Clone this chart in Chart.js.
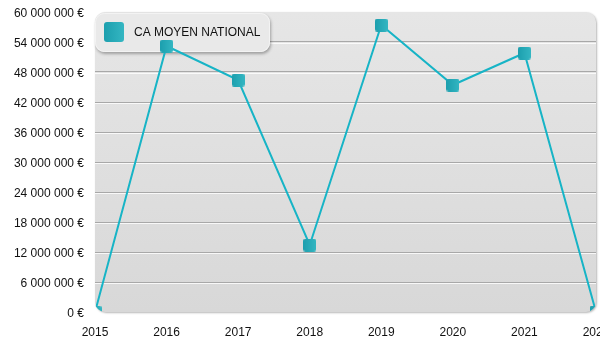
<!DOCTYPE html>
<html>
<head>
<meta charset="utf-8">
<script src="https://cdn.jsdelivr.net/npm/chart.js@4.4.1/dist/chart.umd.min.js"></script>
<style>
  html, body { margin: 0; padding: 0; background: #ffffff; overflow: hidden; }
  #wrap { width: 600px; height: 350px; overflow: hidden; }
  #chart { display: block; }
</style>
</head>
<body>
<div id="wrap"><canvas id="chart" width="605" height="350"></canvas></div>
<script>
// Années et chiffre d'affaires moyen national
const years = ['2015', '2016', '2017', '2018', '2019', '2020', '2021', '2022'];
const caMoyen = [0, 53200000, 46400000, 13400000, 57400000, 45400000, 51800000, 0];
const seriesLabel = 'CA MOYEN NATIONAL';
const yMin = 0;
const yMax = 60000000;
const yStep = 6000000;

const FONT = 'Liberation Sans, Arial, Helvetica, sans-serif';
const TEAL = '#17b4c6';

// "60 000 000 €"
function formatEuro(v) {
  return String(Math.round(v)).replace(/\B(?=(\d{3})+(?!\d))/g, ' ') + ' €';
}

function roundRectPath(ctx, x, y, w, h, r) {
  ctx.beginPath();
  ctx.moveTo(x + r, y);
  ctx.lineTo(x + w - r, y);
  ctx.arcTo(x + w, y, x + w, y + r, r);
  ctx.lineTo(x + w, y + h - r);
  ctx.arcTo(x + w, y + h, x + w - r, y + h, r);
  ctx.lineTo(x + r, y + h);
  ctx.arcTo(x, y + h, x, y + h - r, r);
  ctx.lineTo(x, y + r);
  ctx.arcTo(x, y, x + r, y, r);
  ctx.closePath();
}

// Rounded teal square used for the markers and the legend swatch
function makeSwatch(size, radius) {
  const c = document.createElement('canvas');
  c.width = size; c.height = size;
  const g = c.getContext('2d');
  const grad = g.createLinearGradient(0, 0, size, 0);
  grad.addColorStop(0, '#1c9fae');
  grad.addColorStop(1, '#34b6c2');
  roundRectPath(g, 0, 0, size, size, radius);
  g.fillStyle = grad;
  g.fill();
  return c;
}
const markerImg = makeSwatch(13, 2.5);

// Grey rounded panel behind the plot + soft gridline highlights
const panelPlugin = {
  id: 'panel',
  beforeDraw(chart) {
    const { ctx, chartArea: a } = chart;
    ctx.save();
    ctx.shadowColor = 'rgba(0,0,0,0.28)';
    ctx.shadowBlur = 2;
    ctx.shadowOffsetX = 1;
    ctx.shadowOffsetY = 1;
    const grad = ctx.createLinearGradient(0, a.top, 0, a.bottom);
    grad.addColorStop(0, '#e6e6e6');
    grad.addColorStop(1, '#d8d8d8');
    roundRectPath(ctx, a.left, a.top, a.right - a.left, a.bottom - a.top, 10);
    ctx.fillStyle = grad;
    ctx.fill();
    ctx.restore();
  },
  beforeDatasetsDraw(chart) {
    const { ctx, chartArea: a, scales } = chart;
    // white highlight just under each gridline
    ctx.save();
    ctx.strokeStyle = 'rgba(255,255,255,0.8)';
    ctx.lineWidth = 1;
    scales.y.ticks.forEach(t => {
      if (t.value <= yMin || t.value >= yMax) return;
      const y = Math.round(scales.y.getPixelForValue(t.value)) + 1.5;
      ctx.beginPath();
      ctx.moveTo(a.left, y);
      ctx.lineTo(a.right, y);
      ctx.stroke();
    });
    ctx.restore();

    // legend box
    const lx = 95, ly = 13, lw = 175, lh = 39;
    ctx.save();
    ctx.shadowColor = 'rgba(0,0,0,0.3)';
    ctx.shadowBlur = 3;
    ctx.shadowOffsetX = 1;
    ctx.shadowOffsetY = 2;
    roundRectPath(ctx, lx, ly, lw, lh, 9);
    ctx.fillStyle = '#e9e9e9';
    ctx.fill();
    ctx.restore();
    ctx.save();
    roundRectPath(ctx, lx + 0.5, ly + 0.5, lw - 1, lh - 1, 9);
    ctx.strokeStyle = '#f3f3f3';
    ctx.lineWidth = 1;
    ctx.stroke();
    ctx.drawImage(makeSwatch(20, 3), 104, 22);
    ctx.fillStyle = '#111111';
    ctx.font = '12px ' + FONT;
    ctx.textBaseline = 'middle';
    ctx.textAlign = 'left';
    ctx.fillText(chart.data.datasets[0].label, 134, 33);
    ctx.restore();

    // keep the series inside the rounded panel
    ctx.save();
    roundRectPath(ctx, a.left, a.top, a.right - a.left, a.bottom - a.top, 10);
    ctx.clip();
  },
  afterDatasetsDraw(chart) {
    chart.ctx.restore();
  }
};

new Chart(document.getElementById('chart'), {
  type: 'line',
  data: {
    labels: years,
    datasets: [{
      label: seriesLabel,
      data: caMoyen,
      borderColor: TEAL,
      borderWidth: 2,
      tension: 0,
      fill: false,
      clip: false,
      pointStyle: markerImg,
      pointRadius: 7,
      pointHoverRadius: 7
    }]
  },
  options: {
    responsive: false,
    animation: false,
    events: [],
    layout: { padding: { top: 12, right: 0, left: 0, bottom: 0 } },
    plugins: {
      legend: { display: false },
      tooltip: { enabled: false }
    },
    scales: {
      x: {
        type: 'category',
        offset: false,
        grid: { display: false, drawTicks: false },
        border: { display: false },
        ticks: {
          color: '#111111',
          font: { family: FONT, size: 12 },
          padding: 13,
          maxRotation: 0,
          autoSkip: false
        },
        afterFit(scale) {
          scale.paddingLeft = 0;
          scale.paddingRight = 0;
          scale.height = 38;
        }
      },
      y: {
        min: yMin,
        max: yMax,
        grid: {
          drawTicks: false,
          lineWidth: 1,
          color: ctx => (ctx.tick && (ctx.tick.value <= yMin || ctx.tick.value >= yMax)) ? 'rgba(0,0,0,0)' : '#a8a8a8'
        },
        border: { display: false },
        ticks: {
          stepSize: yStep,
          color: '#111111',
          font: { family: FONT, size: 12 },
          padding: 11,
          labelOffset: 1.5,
          callback: v => formatEuro(v)
        },
        afterFit(scale) {
          scale.width = 95;
          scale.paddingTop = 0;
          scale.paddingBottom = 0;
        }
      }
    }
  },
  plugins: [panelPlugin]
});
</script>
</body>
</html>
